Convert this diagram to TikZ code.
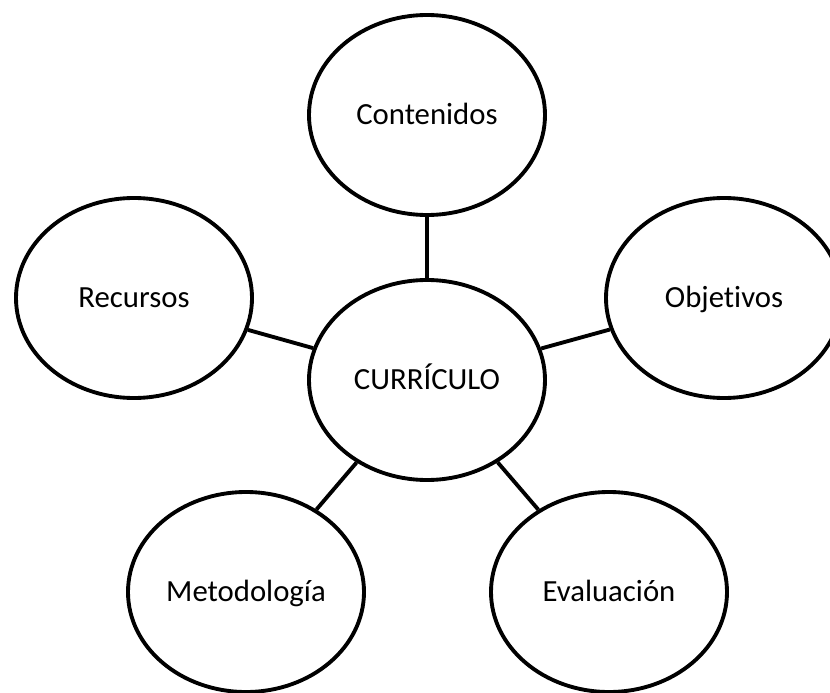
\documentclass[tikz,border=0pt]{standalone}
\usepackage{fontspec}
\setmainfont{Carlito}[Ligatures=NoCommon]
\usetikzlibrary{shapes.geometric}
\begin{document}
\begin{tikzpicture}[every node/.style={draw,ellipse,line width=2.2pt,minimum width=4.72cm,minimum height=4cm,inner sep=0pt,text height=13pt,text depth=2pt,font=\fontsize{17.5}{20}\selectfont}]
          \useasboundingbox (0,0) rectangle (16.6,-13.86);
          \node (1) at (8.54,-7.60) {CURRÍCULO};
          \node (2) at (8.54,-2.30) {Contenidos};
          \node (3) at (2.68,-5.96) {Recursos};
          \node (4) at (14.48,-5.96) {Objetivos};
          \node (5) at (4.92,-11.84) {Metodología};
          \node (6) at (12.18,-11.84) {Evaluación};
          \draw [line width=2.2pt] (1) -- (2);
          \draw [line width=2.2pt] (1) -- (3);
          \draw [line width=2.2pt] (1) -- (4);
          \draw [line width=2.2pt] (1) -- (5);
          \draw [line width=2.2pt] (1) -- (6);
        \end{tikzpicture}
\end{document}
